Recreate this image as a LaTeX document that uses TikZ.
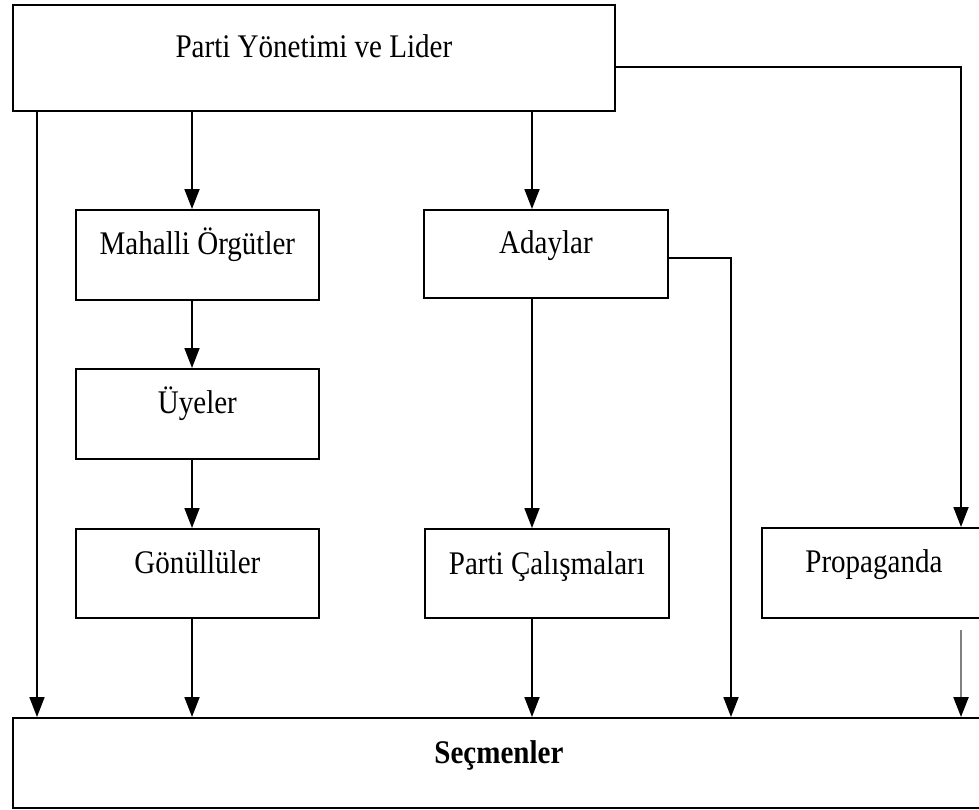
\documentclass[tikz,border=0pt]{standalone}
\usepackage{fontspec}
\usepackage{graphicx}
\setmainfont{Liberation Serif}
\usetikzlibrary{arrows.meta}
\newcommand{\sqz}[1]{\scalebox{0.88}[1]{#1}}
\begin{document}
\begin{tikzpicture}[x=1pt,y=-1pt,
  box/.style={draw, line width=1.8pt, inner sep=0pt, anchor=north west,
    font=\fontsize{33}{36}\selectfont},
  arr/.style={line width=1.8pt, -{Triangle[width=15pt,length=20pt]}},
  ln/.style={line width=1.8pt}]
\useasboundingbox (0,0) rectangle (979,809);
\clip (0,0) rectangle (979,809);
\node[box, minimum width=602pt, text height=53pt, text depth=53pt] (lider) at (12,4) {\sqz{Parti Yönetimi ve Lider}};
\node[box, minimum width=243pt, text height=45pt, text depth=45pt] (mahalli) at (75,209) {\sqz{Mahalli Örgütler}};
\node[box, minimum width=243pt, text height=45pt, text depth=45pt] (uyeler) at (75,368) {\sqz{Üyeler}};
\node[box, minimum width=243pt, text height=45pt, text depth=44pt] (gonullu) at (75,528) {\sqz{Gönüllüler}};
\node[box, minimum width=244pt, text height=44pt, text depth=44pt] (adaylar) at (423,209) {\sqz{Adaylar}};
\node[box, minimum width=244pt, text height=46pt, text depth=43pt] (calisma) at (424,528) {\sqz{Parti Çalışmaları}};
\node[box, minimum width=224pt, text height=45pt, text depth=45pt] (propaganda) at (761,527) {\sqz{Propaganda}};
\node[box, minimum width=972pt, text height=46pt, text depth=44pt, font=\fontsize{33}{36}\selectfont\bfseries] (secmen) at (12,717) {\sqz{Seçmenler}};
\coordinate (lx) at (37,0);
\coordinate (gx) at (192,0);
\coordinate (ax) at (532,0);
\coordinate (kx) at (731,0);
\coordinate (px) at (961,0);
\coordinate (pstart) at (961,630);
% connectors
\draw[arr] (lider.south -| lx) -- (secmen.north -| lx);
\draw[arr] (lider.south -| gx) -- (mahalli.north -| gx);
\draw[arr] (mahalli.south -| gx) -- (uyeler.north -| gx);
\draw[arr] (uyeler.south -| gx) -- (gonullu.north -| gx);
\draw[arr] (gonullu.south -| gx) -- (secmen.north -| gx);
\draw[arr] (lider.south -| ax) -- (adaylar.north -| ax);
\draw[arr] (adaylar.south -| ax) -- (calisma.north -| ax);
\draw[arr] (calisma.south -| ax) -- (secmen.north -| ax);
\draw[arr] ([yshift=-4pt]adaylar.east) -| (secmen.north -| kx);
\draw[arr] ([yshift=-9pt]lider.east) -| (propaganda.north -| px);
\draw[line width=2.4pt, draw=gray, -{Triangle[width=15pt,length=20pt,color=black]}] (pstart) -- (secmen.north -| px);
\end{tikzpicture}
\end{document}
